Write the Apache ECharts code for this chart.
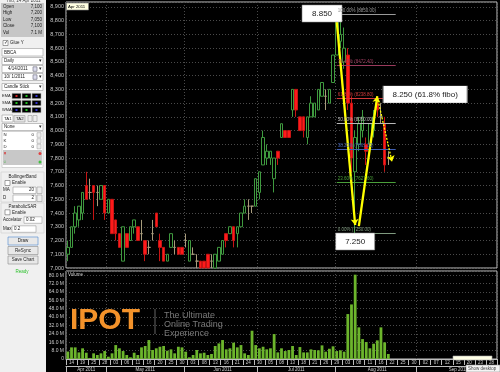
<!DOCTYPE html>
<html><head><meta charset="utf-8">
<script src="https://cdn.jsdelivr.net/npm/echarts@6/dist/echarts.min.js"></script>
<style>html,body{margin:0;padding:0;background:#000;}#c{width:500px;height:372px;}</style>
</head><body><div id="c"></div>
<script>
// ---------- data ----------
const monthNames = ['Apr 2011','May 2011','Jun 2011','Jul 2011','Aug 2011','Sep 2011'];
const monthNums = ['04','05','06','07','08','09'];
const aprDays = [14,15,18,19,20,21,25,26,27,28,29];
const mayDays = [2,3,4,5,6,9,10,11,12,13,16,18,19,20,23,24,25,26,27,30,31];
const junDays = [1,3,6,7,8,9,10,13,14,15,16,17,20,21,22,23,24,27,28,30];
const julDays = [1,4,5,6,7,8,11,12,13,14,15,18,19,20,21,22,25,26,27,28,29];
const augDays = [1,2,3,4,5,8,9,10,11,12,15,16,18,19,22,23,24,25,26,29,30,31];
const sepDays = [1,2,5,6,7,8,9,12,13,14,15,16,19,20,21,22,23,26,27,28,29,30];

const openP = [7100,7150,7300,7350,7400,7600,7550,7600,7550,7500, 7600,7400,7500,7350,7250,7050,7250,7200,7300,7300,
  7250,7200,7150,7250,7400,7200,7150,7050,7150,7150, 7150,7150,7200,7050,7100,7050,7050,7050,7100,7050,
  7000,7050,7100,7250,7250,7300,7250,7300,7400,7450, 7450,7450,7550,7750,7800,7800,7650,7850,7950,8000,
  8000,8150,8300,8100,8100,7950,8100,8100,8150,8250, 8250,8200,8350,8550,8650,8500,8550,8200,7700,7900,
  8000,7900,7900,8000,8200,8100,8050,7800];
const closeP = [7150,7300,7400,7450,7550,7500,7550,7550,7550,7600, 7400,7500,7250,7250,7150,7300,7150,7300,7350,7200,
  7250,7100,7150,7250,7300,7150,7050,7100,7250,7150, 7100,7100,7200,7200,7100,7050,7000,7000,7000,7050,
  7100,7150,7200,7200,7300,7200,7300,7400,7450,7450, 7450,7650,7700,7950,7850,7850,7800,7800,8050,7950,
  7950,8300,8150,8000,8000,8100,8200,8200,8300,8350, 8250,8300,8550,8800,8700,8600,8200,7800,7950,8050,
  8100,7850,8050,8100,8150,8100,7750,7800];
const lowP = [7050,7150,7250,7300,7350,7500,7500,7350,7450,7500, 7350,7400,7250,7200,7150,7050,7150,7200,7250,7200,
  7200,7050,7100,7200,7300,7050,7050,7050,7150,7100, 7100,7100,7150,7050,7100,7000,7000,7000,7000,7000,
  7000,7050,7100,7150,7250,7150,7150,7300,7400,7350, 7400,7450,7500,7750,7750,7750,7550,7750,7950,7950,
  7950,8100,8100,8000,7950,7900,8100,8100,8150,8250, 8150,8200,8350,8550,8600,8450,8150,7700,7250,7850,
  7950,7750,7850,7950,8100,8050,7700,7750];
const highP = [7200,7300,7450,7450,7550,7700,7650,7600,7600,7600, 7600,7500,7500,7350,7250,7300,7250,7300,7350,7300,
  7350,7200,7200,7350,7400,7250,7150,7100,7250,7200, 7150,7150,7250,7200,7150,7100,7050,7050,7100,7100,
  7100,7150,7200,7250,7300,7300,7300,7400,7500,7500, 7450,7650,7700,8000,7900,7850,7800,7850,8050,8000,
  8000,8300,8300,8100,8100,8100,8250,8200,8300,8350, 8300,8300,8550,8850,8850,8750,8600,8250,8000,8100,
  8150,7950,8050,8150,8250,8200,8100,7850];
const volumeM = [7.1,11.1,11.1,6.3,10.2,6.0,1.0,5.4,3.8,5.4, 7.6,2.2,5.4,13.3,10.2,7.6,3.8,1.6,6.0,3.8,
  11.1,12.4,18.1,8.6,10.2,11.7,12.4,7.9,9.2,5.4, 11.7,11.1,7.0,1.6,3.8,8.6,5.4,6.0,3.8,4.8,
  12.4,14.9,18.1,9.2,10.2,15.6,11.1,13.3,5.4,3.8, 27.0,13.3,10.2,11.7,9.2,10.2,23.8,6.3,10.2,7.6,
  8.6,12.4,3.8,11.4,6.3,6.3,9.2,8.6,8.3,13.0, 7.0,9.8,12.1,7.6,8.3,7.0,42.9,52.1,80.5,30.2,
  19.0,16.2,10.2,14.6,17.8,30.2,15.9,4.8];

const fibPct = ['0.00%','23.60%','38.20%','50.00%','61.80%','76.40%','100.00%'];
const fibPrice = [7250, 7627.6, 7861.2, 8050, 8238.8, 8472.4, 8850];
const fibColor = ['#7f9a7f','#4aa03a','#4060b4','#b8b8b8','#d23a3a','#9a3a5c','#9a9a9a'];

const quote = [['Open','7,100'],['High','7,200'],['Low','7,050'],['Close','7,100'],['Vol','7.1 M']];

// ---------- categories ----------
const monthDays = [aprDays, mayDays, junDays, julDays, augDays, sepDays];
const cats = []; const monthStart = new Set(); const monthMid = {};
let k = 0;
monthDays.forEach((days, m) => {
  monthStart.add(k);
  monthMid[Math.floor(k + days.length / 2)] = monthNames[m];
  days.forEach(d => cats.push('2011-' + monthNums[m] + '-' + String(d).padStart(2, '0')));
  k += days.length;
});
const ohlc = openP.map((o, i) => [o, closeP[i], lowP[i], highP[i]]);

// ---------- annotations (data coords: category index, price) ----------
const fibFrom = 73, fibTo = 89;
const arrows = [
  {from: [73, 8793], to: [78, 7313], dotted: false},
  {from: [79, 7305], to: [84, 8250], dotted: false},
  {from: [84, 8245], to: [88, 7774], dotted: true}
];
const boxes = [
  {at: [69, 8852], text: '8.850', w: 40},
  {at: [97, 8263], text: '8.250 (61.8% fibo)', w: 84},
  {at: [78, 7193], text: '7.250', w: 39}
];

const FF = 'Liberation Sans';
const dotted = {color: '#4a4a4a', type: [1, 2], width: 1};

const markLineData = fibPrice.map((p, i) => [
  {coord: [fibFrom, p], symbol: 'none',
   lineStyle: {color: fibColor[i], width: 1, type: 'solid'},
   label: {show: true, position: 'insideStartTop', distance: 1, formatter: fibPct[i] + ' (' + p.toFixed(2) + ')',
           color: fibColor[i], fontSize: 4.5, fontFamily: FF}},
  {coord: [fibTo, p], symbol: 'none'}
]).concat(arrows.map(a => [
  {coord: a.from, symbol: 'none',
   lineStyle: {color: '#ffff00', width: a.dotted ? 1.3 : 2.3, type: a.dotted ? [2, 1.5] : 'solid'},
   label: {show: false}},
  {coord: a.to, symbol: 'arrow', symbolSize: 6}
]));

const markPointData = boxes.map(b => ({
  coord: b.at, symbol: 'rect', symbolSize: [b.w, 17],
  itemStyle: {color: '#ffffff', borderColor: '#8a8a8a', borderWidth: 0.5},
  label: {show: true, position: 'inside', formatter: b.text, color: '#1a1a1a', fontSize: 8, fontFamily: FF}
}));

// ---------- left panel & decorations (UI chrome) ----------
const G = [];
function R(x, y, w, h, fill, stroke, z) { G.push({type: 'rect', z: z || 100, shape: {x, y, width: w, height: h}, style: {fill: fill || 'none', stroke: stroke || null, lineWidth: stroke ? 0.6 : 0}}); }
function T(x, y, s, o) { o = o || {}; G.push({type: 'text', z: o.z || 101, x, y, style: {text: s, fontSize: o.fs || 5, fontFamily: FF, fill: o.c || '#222', align: o.a || 'left', verticalAlign: 'middle', fontWeight: o.w || 'normal'}}); }
function C(cx, cy, r, fill) { G.push({type: 'circle', z: 101, shape: {cx, cy, r}, style: {fill}}); }

R(0, 0, 46, 372, '#f0f0f0');
T(6, 1, 'Thu, 14 Apr 2011', {fs: 4.5, c: '#444'});
R(1, 3, 43, 34, '#c6c6c6');
quote.forEach((q, i) => { const y = 6.5 + i * 6.5; T(3, y, q[0], {fs: 4.5}); T(42, y, q[1], {fs: 4.5, a: 'right'}); });
R(3, 40.5, 5, 5, '#fff', '#666'); T(3.7, 43, '✓', {fs: 5}); T(10, 43, 'Glue Y', {fs: 4.5});
R(2, 48.5, 41, 7.5, '#fff', '#9a9a9a'); T(4, 52.3, 'BBCA', {fs: 4.5});
R(2, 57.5, 41, 7, '#fff', '#9a9a9a'); T(4, 61, 'Daily', {fs: 4.5}); T(40, 61, '▾', {fs: 5, a: 'center'});
R(2, 65.5, 41, 7, '#fff', '#9a9a9a'); T(8, 69, '4/14/2011', {fs: 4.5}); R(33, 66.8, 4, 4.5, '#dde', '#667'); T(40.5, 69, '▾', {fs: 5, a: 'center'});
R(2, 73.5, 41, 7, '#fff', '#9a9a9a'); T(4, 77, '10/ 1/2011', {fs: 4.5}); R(33, 74.8, 4, 4.5, '#dde', '#667'); T(40.5, 77, '▾', {fs: 5, a: 'center'});
R(2, 83.5, 41, 7, '#fff', '#9a9a9a'); T(4, 87, 'Candle Stick', {fs: 4.5}); T(40, 87, '▾', {fs: 5, a: 'center'});
[['EMA', 96, '#d02020'], ['SMA', 103, '#20c020'], ['WMA', 110, '#3030d0']].forEach(r => {
  T(2, r[1], r[0], {fs: 4});
  [12, 22, 32].forEach((x, j) => { R(x, r[1] - 2.7, 9, 5.4, '#000', '#bbb'); R(x + 3.5, r[1] - 1, 2, 2, [r[2], '#20c020', '#3030d0'][j]); });
});
R(2, 115, 11, 7, '#fff', '#9a9a9a'); T(4, 118.5, 'TA1', {fs: 4.3});
R(14, 115.5, 11, 6.5, '#e4e4e4', '#9a9a9a'); T(16, 118.7, 'TA2', {fs: 4.3});
R(28, 115.5, 4, 6, '#eee', '#9a9a9a'); R(33, 115.5, 4, 6, '#eee', '#9a9a9a');
R(2, 123.5, 41, 7, '#fff', '#9a9a9a'); T(4, 127, 'None', {fs: 4.5}); T(40, 127, '▾', {fs: 5, a: 'center'});
R(2, 131.5, 41, 36, '#fff', '#bbbbbb');
[['N', 135], ['K', 141], ['D', 146.5]].forEach(r => { T(3.5, r[1], r[0], {fs: 4.3}); T(34, r[1], '0', {fs: 4.3, a: 'right'}); R(37, r[1] - 2.3, 4, 4.6, '#eee', '#aaa'); });
R(3, 150, 39, 15, '#c8c8c8');
T(3.5, 153.5, '×', {fs: 5, c: '#d00'}); C(40, 153.5, 1.5, '#e04040');
T(3.5, 162, '○', {fs: 4.5, c: '#2a2'}); C(40, 162, 1.5, '#40c040');
R(1, 172, 43, 30, 'none', '#cfcfcf');
T(22.5, 176.5, 'BollingerBand', {fs: 4.5, a: 'center'});
R(5, 180.5, 5, 5, '#fff', '#666'); T(12, 183, 'Enable', {fs: 4.5});
T(3, 190, 'MA', {fs: 4.5}); R(13, 187, 23, 6.5, '#fff', '#9a9a9a'); T(34, 190.2, '20', {fs: 4.5, a: 'right'}); R(37, 187, 5, 6.5, '#eee', '#9a9a9a');
T(3, 198, 'D', {fs: 4.5}); R(13, 195, 23, 6.5, '#fff', '#9a9a9a'); T(34, 198.2, '2', {fs: 4.5, a: 'right'}); R(37, 195, 5, 6.5, '#eee', '#9a9a9a');
R(1, 203, 43, 30, 'none', '#cfcfcf');
T(22.5, 207, 'ParabolicSAR', {fs: 4.5, a: 'center'});
R(5, 209.8, 5, 5, '#fff', '#666'); T(12, 212.3, 'Enable', {fs: 4.5});
T(3, 220, 'Accelator', {fs: 4.5}); R(24, 216.8, 18, 6.5, '#fff', '#9a9a9a'); T(26, 220.1, '0.02', {fs: 4.5});
T(3, 229, 'Max', {fs: 4.5}); R(12, 225.8, 24, 6.5, '#fff', '#9a9a9a'); T(14, 229.1, '0.2', {fs: 4.5});
R(8, 237, 30, 8, '#e8e8e8', '#4a86d0'); T(23, 241, 'Draw', {fs: 4.5, a: 'center'});
R(8, 246.5, 30, 8, '#e8e8e8', '#8a8a8a'); T(23, 250.5, 'ReSync', {fs: 4.5, a: 'center'});
R(8, 256, 30, 8, '#e8e8e8', '#8a8a8a'); T(23, 260, 'Save Chart', {fs: 4.5, a: 'center'});
T(22, 271.5, 'Ready', {fs: 4.5, c: '#2ec22e', a: 'center'});

// watermark & misc chrome
T(70, 321, 'IPOT', {fs: 30, w: 'bold', c: '#f3922a', z: 1});
G.push({type: 'line', z: 1, shape: {x1: 155, y1: 309, x2: 155, y2: 334}, style: {stroke: '#666', lineWidth: 1}});
T(164, 315.5, 'The Ultimate', {fs: 9, c: '#777', z: 1});
T(164, 324.5, 'Online Trading', {fs: 9, c: '#777', z: 1});
T(164, 333.5, 'Experience', {fs: 9, c: '#777', z: 1});
T(68, 275, 'Volume', {fs: 4.5, c: '#cfcfcf', z: 5});
R(66.5, 3, 22, 7, '#ffffe1', '#888', 50); T(68, 6.6, 'Apr 2011', {fs: 4.3, c: '#000', z: 51});
R(453, 356, 39, 4, '#ffffe6', '#aaa', 50);
R(466, 365, 34, 7, '#f4f4f4', '#999', 50); T(468, 368.7, 'Show desktop', {fs: 4.5, c: '#444', z: 51});

// ---------- chart ----------
const chart = echarts.init(document.getElementById('c'), null, {renderer: 'canvas'});
const isMonthStart = (i) => monthStart.has(i);
const dd = (i) => cats[i] ? cats[i].slice(8) : '';

chart.setOption({
  backgroundColor: '#000',
  animation: false,
  grid: [
    {left: 66, right: 3, top: 2, height: 266, show: true, borderColor: '#c4c4c4', borderWidth: 1},
    {left: 66, right: 3, top: 271, height: 88, show: true, borderColor: '#c4c4c4', borderWidth: 1}
  ],
  xAxis: [
    {type: 'category', gridIndex: 0, data: cats, boundaryGap: true,
     axisLine: {show: false, onZero: false}, axisTick: {show: false}, axisLabel: {show: false},
     splitLine: {show: true, interval: isMonthStart, lineStyle: dotted}},
    {type: 'category', gridIndex: 1, data: cats, boundaryGap: true, position: 'bottom',
     axisLine: {show: true, onZero: false, lineStyle: {color: '#bdbdbd', width: 1}},
     axisTick: {show: true, interval: (i) => i % 3 === 0, length: 6, lineStyle: {color: '#bdbdbd'}},
     axisLabel: {show: true, interval: (i) => i % 3 === 1, formatter: (v, i) => dd(i - 1), fontSize: 4.5, color: '#cfcfcf', margin: 1.5, fontFamily: FF},
     splitLine: {show: true, interval: isMonthStart, lineStyle: dotted}},
    {type: 'category', gridIndex: 1, data: cats, boundaryGap: true, position: 'bottom', offset: 7,
     axisLine: {show: true, onZero: false, lineStyle: {color: '#bdbdbd', width: 1}},
     axisTick: {show: true, interval: isMonthStart, length: 6, lineStyle: {color: '#bdbdbd'}},
     axisLabel: {show: true, interval: (i) => monthMid[i] !== undefined, formatter: (v, i) => monthMid[i] || '', fontSize: 4.5, color: '#cfcfcf', margin: 1, fontFamily: FF},
     splitLine: {show: false}}
  ],
  yAxis: [
    {type: 'value', gridIndex: 0, min: 7000, max: 8936, interval: 100,
     axisLine: {show: false}, axisTick: {show: false},
     axisLabel: {fontSize: 5.5, color: '#c8c8c8', margin: 2, showMaxLabel: false, fontFamily: FF,
                 formatter: (v) => v.toLocaleString('en-US')},
     splitLine: {show: true, lineStyle: dotted}},
    {type: 'value', gridIndex: 1, min: 0, max: 84, interval: 8,
     axisLine: {show: false}, axisTick: {show: false},
     axisLabel: {fontSize: 5, color: '#c8c8c8', margin: 2, showMaxLabel: false, fontFamily: FF,
                 formatter: (v) => v === 0 ? '0' : v.toFixed(1) + ' M'},
     splitLine: {show: true, lineStyle: dotted}}
  ],
  series: [
    {type: 'candlestick', name: 'BBCA', xAxisIndex: 0, yAxisIndex: 0, data: ohlc, barWidth: 3,
     itemStyle: {color: '#000000', color0: '#ff1a1a', borderColor: '#3f9a3f', borderColor0: '#c81414', borderColorDoji: '#a89c7c', borderWidth: 1},
     markLine: {silent: true, animation: false, symbol: 'none', data: markLineData},
     markPoint: {silent: true, animation: false, data: markPointData}},
    {type: 'bar', name: 'Volume', xAxisIndex: 1, yAxisIndex: 1, data: volumeM, barWidth: 2.8,
     itemStyle: {color: '#6cb52c'}}
  ],
  graphic: {elements: G}
});
</script></body></html>
